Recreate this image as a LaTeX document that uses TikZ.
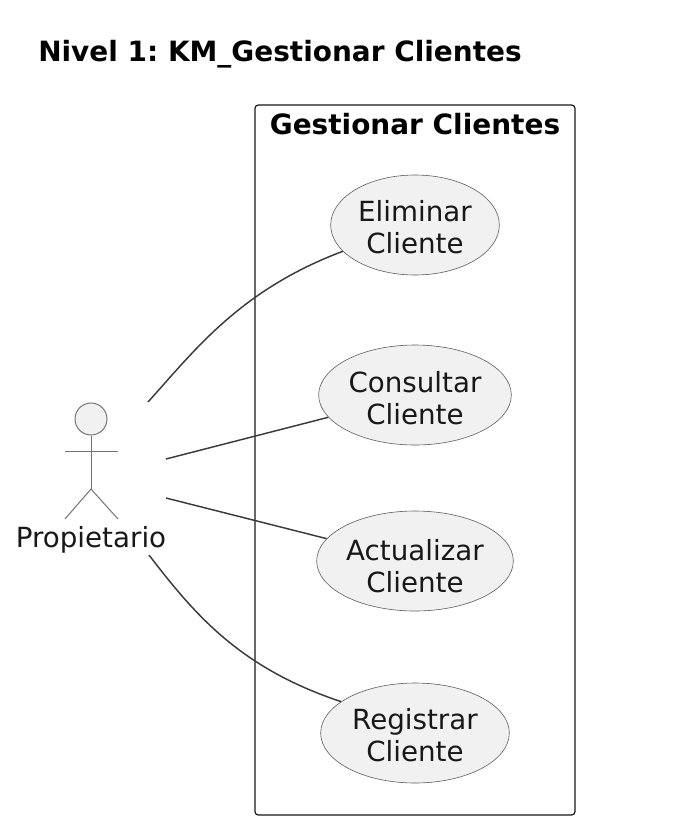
\documentclass[tikz,border=0pt]{standalone}
\usepackage{fontspec}
\setmainfont{DejaVu Sans}
\usetikzlibrary{shapes.geometric}
\definecolor{ucfill}{HTML}{F1F1F1}
\definecolor{ucline}{HTML}{181818}
\tikzset{
  x=0.75pt,y=-0.75pt,
  uc/.style={draw=ucline!70,fill=ucfill,ellipse,line width=0.45pt,inner sep=0pt,minimum height=75pt},
  uctext/.style={inner sep=0pt,align=center,font=\fontsize{20.8}{23.6}\selectfont,text=ucline},
  link/.style={draw=ucline!85,line width=1.1pt},
  act/.style={draw=ucline!60,line width=0.75pt},
  lab/.style={inner sep=0pt,text=ucline},
}
\begin{document}
\begin{tikzpicture}
\frenchspacing
\useasboundingbox (0,0) rectangle (686,836);
\node[lab,anchor=west,font=\bfseries\fontsize{20.95}{24}\selectfont,text=black] (title) at (38,54) {Nivel 1: KM\_Gestionar Clientes};
\draw[rounded corners=2.5pt,line width=0.9pt,draw=ucline] (255,105) rectangle (575,815);
\node[lab,font=\bfseries\fontsize{20.95}{24}\selectfont,text=black] (pkg) at (415,124) {Gestionar Clientes};
\node[uc,minimum width=126.5pt] (e) at (415,225) {};
\node[uc,minimum width=144.5pt] (c) at (415,395) {};
\node[uc,minimum width=147.5pt] (a) at (415,561) {};
\node[uc,minimum width=141.5pt] (r) at (415,733) {};
\node[uctext] (et) at (415,227) {Eliminar\\Cliente};
\node[uctext] (ct) at (415,398) {Consultar\\Cliente};
\node[uctext] (at) at (415,566) {Actualizar\\Cliente};
\node[uctext] (rt) at (415,735) {Registrar\\Cliente};
% actor
\node[draw=ucline!60,fill=ucfill,circle,minimum size=24pt,inner sep=0pt,line width=0.75pt] (head) at (91,419) {};
\coordinate (hip) at (91,489);
\coordinate (armL) at (65,451);
\coordinate (armR) at (118,451);
\coordinate (footL) at (65,519);
\coordinate (footR) at (118,519);
\draw[act] (head.south) -- (hip);
\draw[act] (armL) -- (armR);
\draw[act] (footL) -- (hip) -- (footR);
\node[lab,font=\fontsize{20.8}{24}\selectfont] (prop) at (91,540) {Propietario};
\coordinate (s1) at (148,402);
\coordinate (s2) at (166,459);
\coordinate (s3) at (166,498);
\coordinate (s4) at (149,555);
\draw[link] (s1) .. controls (195,350) and (240,290) .. (e.200);
\draw[link] (s2) -- (c);
\draw[link] (s3) -- (a);
\draw[link] (s4) .. controls (195,615) and (240,668) .. (r.157);
\end{tikzpicture}
\end{document}
